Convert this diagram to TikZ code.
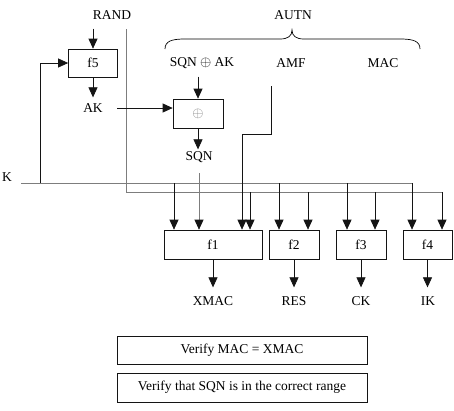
\documentclass[tikz,border=0pt]{standalone}
\usepackage{fontspec}
\setmainfont{Liberation Serif}
\usetikzlibrary{arrows.meta, positioning, calc}
\definecolor{traitGris}{RGB}{125, 125, 125}
\definecolor{noirTrait}{RGB}{20, 20, 20}

\begin{document}
\begin{tikzpicture}[x=1pt, y=-1pt,
  fbox/.style={rectangle, draw=noirTrait, line width=0.7pt, inner sep=0pt,
    minimum width=#1, minimum height=29pt, font=\fontsize{13.5}{16}\selectfont},
  lbl/.style={font=\fontsize{13.5}{16}\selectfont, inner sep=1pt},
  sig/.style={line width=0.7pt, draw=noirTrait,
    -{Triangle[length=10pt, width=9pt, color=noirTrait]}},
  wire/.style={line width=0.7pt, draw=#1},
]
\useasboundingbox (0,0) rectangle (454,410);
\node[lbl] (rand) at (112,15) {RAND};
\node[lbl] (autn) at (293,15) {AUTN};
\node[lbl] (sqnak) at (202,63) {SQN $\oplus$ AK};
\node[lbl] (amf)  at (291,63) {AMF};
\node[lbl] (mac)  at (383,63) {MAC};
\node[lbl] (ak)   at (93,108) {AK};
\node[lbl] (sqn)  at (199,157) {SQN};
\node[lbl] (k)    at (7,177) {K};
\node[fbox=49pt, minimum height=28pt] (f5) at (93,63) {f5};
\node[fbox=50pt] (xor) at (198,113.5) {\textcolor{traitGris}{$\oplus$}};
\node[fbox=98pt] (f1) at (213,244.5) {f1};
\node[fbox=50pt] (f2) at (294,244.5) {f2};
\node[fbox=50pt] (f3) at (361,244.5) {f3};
\node[fbox=49pt] (f4) at (427.5,244.5) {f4};
\node[lbl] (xmac) at (213,301) {XMAC};
\node[lbl] (res)  at (294,301) {RES};
\node[lbl] (ck)   at (361,301) {CK};
\node[lbl] (ik)   at (428,301) {IK};
\node[fbox=250pt, minimum height=28pt] (macchk) at (242,350) {Verify MAC = XMAC};
\node[fbox=250pt] (sqnchk) at (242,387.5) {Verify that SQN is in the correct range};
\draw[line width=0.7pt]
  (165,49) .. controls (165,41) and (172,39) .. (185,39) -- (280,39)
  .. controls (288,39) and (292,36) .. (292,30)
  .. controls (292,36) and (296,39) .. (304,39) -- (400,39)
  .. controls (413,39) and (420,41) .. (420,49);
\coordinate (randtop) at (126,29);
\coordinate (randbus) at (442,192);
\coordinate (kbus) at (21,183);
\coordinate (kend) at (412,183);
\coordinate (kup) at (40,183);
\coordinate (sqnbot) at (199,173);
\coordinate (akout) at (117,108);
\coordinate (amftop) at (271,86);
\coordinate (amfbend) at (242,134);
\draw[wire=traitGris] (randtop) |- (randbus);
\draw[wire=traitGris] (kbus) -- (kend);
\draw[sig] (kup) |- (f5.west);
\draw[sig] (f5.north) ++(0,-20) -- (f5.north);
\draw[sig] (f5.south) -- ++(0,20);
\draw[sig] (akout) -- (akout -| xor.west);
\draw[sig] (xor.north) ++(0,-22) -- (xor.north);
\draw[sig] (xor.south) -- ++(0,21);
\draw[sig, draw=traitGris] (sqnbot) -- (sqnbot |- f1.north);
\draw[sig] (amftop) |- (amfbend) -- (amfbend |- f1.north);
\foreach \x/\b in {174/f1, 279/f2, 347/f3, 412/f4} {
  \coordinate (kdrop) at (\x,183);
  \draw[sig] (kdrop) -- (kdrop |- \b.north);
}
\foreach \x/\b in {250/f1, 308/f2, 375/f3, 442/f4} {
  \coordinate (rdrop) at (\x,192);
  \draw[sig] (rdrop) -- (rdrop |- \b.north);
}
\foreach \b/\o in {f1/xmac, f2/res, f3/ck, f4/ik}
  \draw[sig] (\b.south) -- ++(0,28);
\end{tikzpicture}
\end{document}
